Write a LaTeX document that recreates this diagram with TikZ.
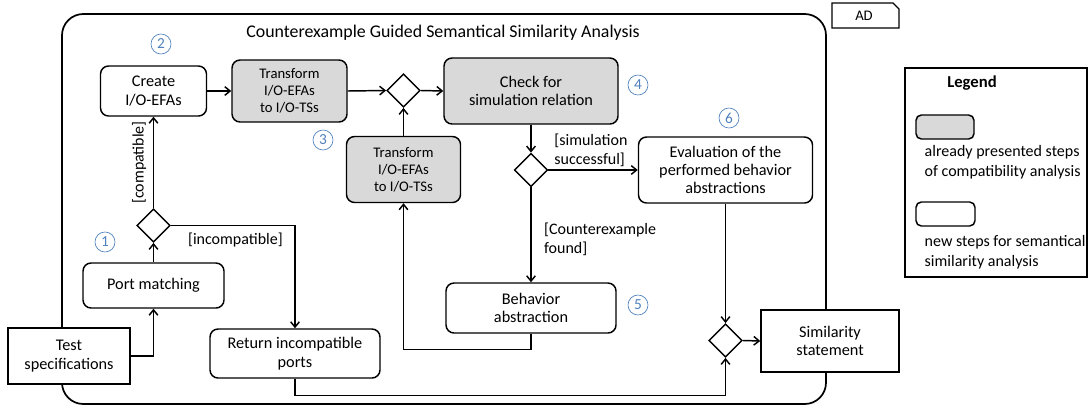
\documentclass[tikz,border=0pt]{standalone}
\usepackage{fontspec}
\setmainfont{Carlito}
\usepackage{tikz}
\usetikzlibrary{shapes.geometric, arrows.meta}

\definecolor{stepgray}{HTML}{D9D9D9}
\definecolor{numblue}{HTML}{4F81BD}

\tikzset{
    stepnode/.style={draw, rounded corners=6pt, fill=white, align=center, inner sep=0pt, line width=1.1pt,
        font=\fontsize{12.2}{13.8}\selectfont},
    oldstep/.style={stepnode, fill=stepgray, font=\fontsize{11}{12.8}\selectfont},
    objnode/.style={draw, fill=white, align=center, inner sep=0pt, line width=1.1pt,
        font=\fontsize{12.2}{13.8}\selectfont},
    decision/.style={diamond, draw, fill=white, aspect=1, inner sep=0pt, minimum size=25pt, line width=1.1pt},
    numcirc/.style={circle, draw=numblue, text=numblue, line width=0.5pt, minimum size=15pt, inner sep=0pt,
        font=\fontsize{11.5}{12}\selectfont},
    arr/.style={-{Straight Barb[length=4pt, width=6.5pt]}, line width=1.1pt},
    guard/.style={font=\fontsize{12}{14.2}\selectfont, align=left}
}

\begin{document}
\begin{tikzpicture}[x=0.75pt, y=-0.75pt]
    \useasboundingbox (0,0) rectangle (1089,411);

    % activity frame
    \draw[line width=1.3pt, rounded corners=16pt] (62,14) rectangle (826,404);
    \node[font=\fontsize{13.4}{15}\selectfont] (title) at (443,33) {Counterexample Guided Semantical Similarity Analysis};
    \draw[line width=0.9pt, fill=white] (832,3) -- (893,3) -- (899,9) -- (899,28) -- (832,28) -- cycle;
    \node[font=\fontsize{11}{12}\selectfont] (ad) at (864,15.5) {AD};

    % steps
    \node[objnode, minimum width=91.5pt, minimum height=42pt] (spec) at (69,356) {Test\\specifications};
    \node[stepnode, minimum width=105.75pt, minimum height=33.75pt] (port) at (153.5,285.5) {Port matching};
    \node[decision] (dcomp) at (153.5,225.5) {};
    \node[stepnode, minimum width=79.5pt, minimum height=37.5pt] (create) at (153.5,91) {Create\\I/O-EFAs};
    \node[oldstep, minimum width=86.25pt, minimum height=46.5pt] (trans1) at (289.5,91) {Transform\\I/O-EFAs\\to I/O-TSs};
    \node[decision] (merge) at (403.5,90.5) {};
    \node[oldstep, minimum width=85.5pt, minimum height=49.5pt] (trans2) at (403.5,169.5) {Transform\\I/O-EFAs\\to I/O-TSs};
    \node[oldstep, minimum width=130.5pt, minimum height=49.5pt, font=\fontsize{12.2}{13.8}\selectfont] (check) at (531,91) {Check for\\simulation relation};
    \node[decision] (dsim) at (531,170) {};
    \node[stepnode, minimum width=130.5pt, minimum height=49.5pt] (eval) at (725.5,170) {Evaluation of the\\performed behavior\\abstractions};
    \node[stepnode, minimum width=127.5pt, minimum height=37.5pt] (behav) at (531,308) {Behavior\\abstraction};
    \node[stepnode, minimum width=127.5pt, minimum height=36.75pt] (ret) at (295,353.5) {Return incompatible\\ports};
    \node[decision] (djoin) at (725.5,340.5) {};
    \node[objnode, minimum width=103.5pt, minimum height=46.5pt] (sim) at (830,341) {Similarity\\statement};

    % step numbers
    \node[numcirc] (n1) at (105,242) {1};
    \node[numcirc] (n2) at (161,44) {2};
    \node[numcirc] (n3) at (323,140) {3};
    \node[numcirc] (n4) at (638,85) {4};
    \node[numcirc] (n5) at (638,305) {5};
    \node[numcirc] (n6) at (729,118) {6};

    % flows
    \draw[arr] (spec.east) -| (port.south);
    \draw[arr] (port.north) -- (dcomp.south);
    \draw[arr] (dcomp.north) -- node[guard, rotate=90, anchor=south, inner sep=5pt] {[compatible]} (create.south);
    \draw[arr] (dcomp.east) -| node[guard, pos=0.26, below, inner sep=5pt] {[incompatible]} (ret.north);
    \draw[arr] (create.east) -- (trans1.west);
    \draw[arr] (trans1.east) -- (merge.west);
    \draw[arr] (trans2.north) -- (merge.south);
    \draw[arr] (merge.east) -- (check.west);
    \draw[arr] (check.south) -- (dsim.north);
    \draw[arr] (dsim.east) -- node[guard, pos=0, anchor=south west, xshift=2pt, inner sep=2pt] {[simulation\\successful]} (eval.west);
    \draw[arr] (dsim.south) -- node[guard, pos=0.55, anchor=west, xshift=6pt] {[Counterexample\\found]} (behav.north);
    \draw[arr] (behav.south) -- ++(0,16) -| (trans2.south);
    \draw[arr] (eval.south) -- (djoin.north);
    \draw[arr] (ret.south) -- ++(0,16.5) -| (djoin.south);
    \draw[arr] (djoin.east) -- (sim.west);

    % legend
    \draw[line width=1.3pt] (905,68) rectangle (1087,277);
    \node[font=\bfseries\fontsize{12.5}{14}\selectfont] (leg) at (972,83) {Legend};
    \draw[line width=1.1pt, rounded corners=4pt, fill=stepgray] (916,115) rectangle (974,139);
    \node[guard, anchor=west, font=\fontsize{12}{15}\selectfont] (legold) at (920,162) {already presented steps\\of compatibility analysis};
    \draw[line width=1.1pt, rounded corners=4pt, fill=white] (916,202) rectangle (975,226);
    \node[guard, anchor=west, font=\fontsize{12}{15}\selectfont] (legnew) at (920,252) {new steps for semantical\\similarity analysis};
\end{tikzpicture}
\end{document}
